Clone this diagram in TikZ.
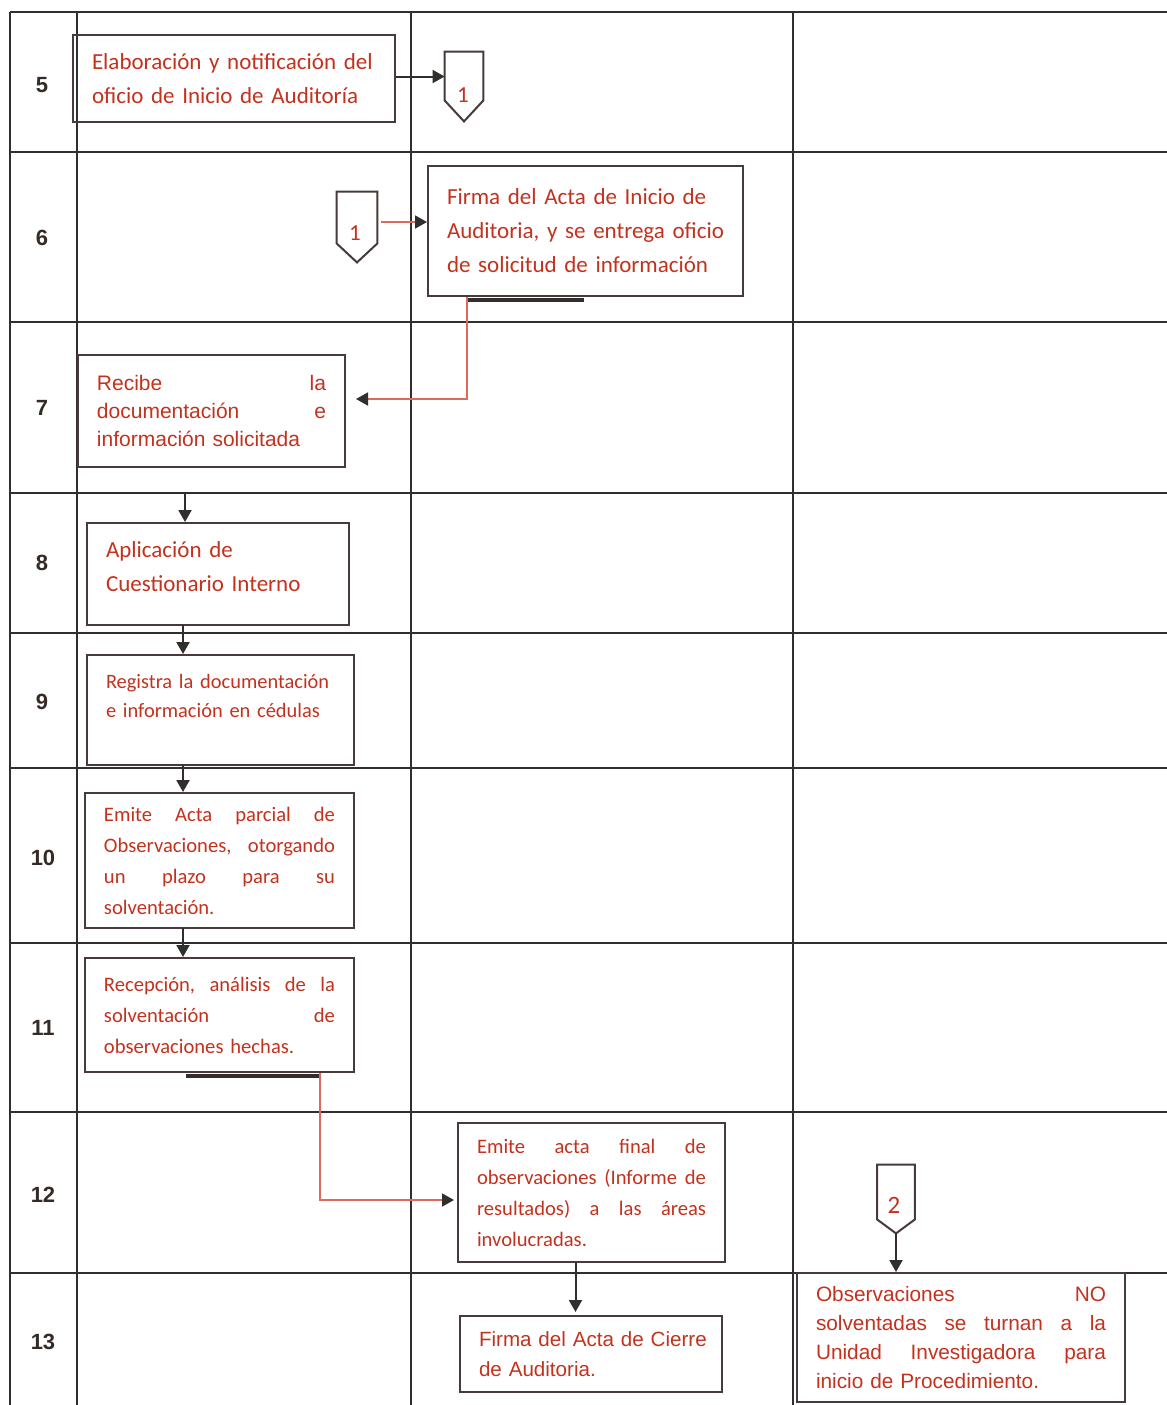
\documentclass[tikz,border=0pt]{standalone}
\usepackage{fontspec}
\setmainfont{Carlito}
\newfontfamily\arialf{Liberation Sans}
\usetikzlibrary{arrows.meta,calc}
\definecolor{txtred}{RGB}{195,50,30}
\definecolor{linered}{RGB}{222,105,95}
\definecolor{ink}{RGB}{50,46,46}
\definecolor{boxedge}{RGB}{72,58,58}
\definecolor{numink}{RGB}{52,42,38}

\begin{document}
\begin{tikzpicture}[x=0.5pt,y=-0.5pt,
  grid/.style={draw=ink,line width=1pt},
  stepbox/.style={draw=boxedge,line width=1pt,inner xsep=9.5pt,inner ysep=0pt,
    align=left,text=txtred,anchor=center},
  cal/.style={font=\fontsize{11.5}{17}\selectfont},
  calsm/.style={font=\fontsize{10.3}{15.5}\selectfont},
  ari/.style={font=\arialf\fontsize{10.4}{14.5}\selectfont},
  rownum/.style={font=\arialf\bfseries\fontsize{11}{13}\selectfont,text=numink},
  offpage/.style={minimum width=19pt,minimum height=34.5pt,inner sep=0pt},
  offedge/.style={draw=boxedge,line width=1pt,line join=miter},
  offlabel/.style={font=\fontsize{11.5}{13}\selectfont,text=txtred,inner sep=0pt},
  tip/.style={-{Triangle[length=6pt,width=6.5pt]}},
  darkflow/.style={draw=ink,line width=1pt,tip},
  redflow/.style={draw=linered,line width=0.9pt,-{Triangle[length=6pt,width=6.5pt,color=ink]}},
]
\useasboundingbox (0,0) rectangle (1167,1405);
\fill[white] (0,0) rectangle (1167,1405);

% ---- table grid ----
\draw[grid] (10,12) -- (1167,12);
\foreach \yy in {152,322,493,633,768,943,1112,1273}
  \draw[grid] (10,\yy) -- (1167,\yy);
\foreach \xx in {10,77,411,793}
  \draw[grid] (\xx,12) -- (\xx,1405);

% ---- step numbers ----
\node[rownum] (n5)  at (42,85)   {5};
\node[rownum] (n6)  at (42,238)  {6};
\node[rownum] (n7)  at (42,408)  {7};
\node[rownum] (n8)  at (42,563)  {8};
\node[rownum] (n9)  at (42,702)  {9};
\node[rownum] (n10) at (43,858)  {10};
\node[rownum] (n11) at (43,1028) {11};
\node[rownum] (n12) at (43,1195) {12};
\node[rownum] (n13) at (43,1342) {13};

% ---- activity boxes ----
\node[stepbox,cal,text width=142pt,minimum height=43.5pt] (b5) at (234,78.5)
  {\mbox{Elaboración y notificación del}\\ oficio de Inicio de Auditoría};
\node[stepbox,cal,text width=138.5pt,minimum height=65pt] (b6) at (585.5,231)
  {Firma del Acta de Inicio de\\ \mbox{Auditoria, y se entrega oficio}\\ de solicitud de información};
\node[stepbox,font=\arialf\fontsize{10.5}{14}\selectfont,text width=114.5pt,minimum height=56pt] (b7) at (211.5,411)
  {Recibe\hfill la\\ documentación\hfill e\\ \mbox{información solicitada}};
\node[stepbox,cal,text width=112pt,minimum height=51pt] (b8) at (218,574)
  {Aplicación de\\ \mbox{Cuestionario Interno}\\[-10pt] \mbox{}};
\node[stepbox,font=\fontsize{10.2}{14.5}\selectfont,text width=114.5pt,minimum height=55pt] (b9) at (220.5,710)
  {\mbox{Registra la documentación}\\ \mbox{e información en cédulas}\\ \mbox{}};
\node[stepbox,calsm,text width=115.5pt,minimum height=67.5pt] (b10) at (219.5,860.5)
  {Emite\hfill Acta\hfill parcial\hfill de\\ Observaciones,\hfill otorgando\\ un\hfill plazo\hfill para\hfill su\\ solventación.};
\node[stepbox,calsm,text width=115.5pt,minimum height=57pt] (b11) at (219.5,1015)
  {Recepción,\hfill análisis\hfill de\hfill la\\ solventación\hfill de\\ \mbox{observaciones hechas.}};
\node[stepbox,calsm,text width=114.5pt,minimum height=69.5pt] (b12) at (591.5,1192.5)
  {Emite\hfill acta\hfill final\hfill de\\ observaciones\hfill (Informe\hfill de\\ resultados)\hfill a\hfill las\hfill áreas\\ involucradas.};
\node[stepbox,font=\arialf\fontsize{10.3}{15}\selectfont,text width=112pt,minimum height=38pt] (b13a) at (591,1354)
  {\mbox{Firma del Acta de Cierre}\\ de Auditoria.};
\node[stepbox,ari,text width=145pt,minimum height=64.5pt] (b13b) at (961,1337.5)
  {Observaciones\hfill NO\\ solventadas\hfill se\hfill turnan\hfill a\hfill la\\ Unidad\hfill Investigadora\hfill para\\ \mbox{inicio de Procedimiento.}};

% dark shadow strokes under two boxes
\draw[ink,line width=2pt] ([xshift=20pt]b6.south west) ++(0,3) -- ++(117,0);
\draw[ink,line width=2pt] ([xshift=51pt]b11.south west) ++(0,3) -- ++(133,0);

% ---- off-page connectors ----
\node[offpage] (c1) at (464,86.5) {};
\draw[offedge] (c1.north west) -- (c1.north east) -- ([yshift=10.5pt]c1.south east)
  -- (c1.south) -- ([yshift=10.5pt]c1.south west) -- cycle;
\node[offlabel] (c1t) at (463,95) {1};

\node[offpage,minimum width=20pt,minimum height=35pt] (c1b) at (357,227) {};
\draw[offedge] (c1b.north west) -- (c1b.north east) -- ([yshift=9.5pt]c1b.south east)
  -- (c1b.south) -- ([yshift=9.5pt]c1b.south west) -- cycle;
\node[offlabel] (c1bt) at (355,233) {1};

\node[offpage,minimum width=18.5pt,minimum height=34pt] (c2) at (896,1199) {};
\draw[offedge] (c2.north west) -- (c2.north east) -- ([yshift=7pt]c2.south east)
  -- (c2.south) -- ([yshift=7pt]c2.south west) -- cycle;
\node[offlabel,font=\fontsize{12.5}{14}\selectfont] (c2t) at (894,1205) {2};

% ---- flow connectors ----
\draw[darkflow] ([yshift=1pt]b5.east) -- ([yshift=1pt]b5.east -| c1.west);
\draw[redflow] ([xshift=2pt,yshift=2.5pt]c1b.east) -- ([yshift=2.5pt]c1b.east -| b6.west);
\draw[redflow] ([xshift=20pt]b6.south west) |- ($(b7.east)+(10,-12)$);
\coordinate (g78) at (185,493);
\draw[darkflow] (g78) -- (g78 |- b8.north);
\draw[darkflow] (183,625) coordinate (b8out) -- (b8out |- b9.north);
\draw[darkflow] (183,765) coordinate (b9out) -- (b9out |- b10.north);
\draw[darkflow] (183,928) coordinate (b10out) -- (b10out |- b11.north);
\draw[redflow] ([xshift=118pt]b11.south west) |- ($(b12.west)+(-3,7.5)$);
\draw[darkflow] ([xshift=-8pt]b12.south) -- ([xshift=-8pt,yshift=1.5pt]b12.south |- b13a.north);
\draw[darkflow] (c2.south) -- (c2.south |- b13b.north);
\end{tikzpicture}
\end{document}
